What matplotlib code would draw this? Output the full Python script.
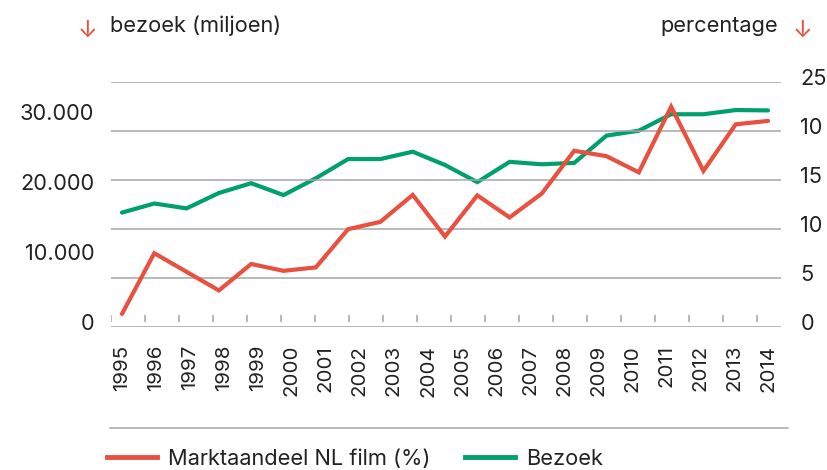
import numpy as np
import matplotlib
matplotlib.use('Agg')
from matplotlib import pyplot as plt
from matplotlib import transforms
from matplotlib.lines import Line2D

plt.rcParams['font.family'] = ['Inter', 'DejaVu Sans']

# 21 points spread evenly over 1995-2014 (as in the source chart)
x_pts = np.linspace(1995, 2014, 21)

# bezoek (duizenden), left axis
bezoek = [16300, 17600, 16900, 19100, 20500, 18800, 21200, 23950, 23950, 25000, 23100,
          20650, 23550, 23200, 23400, 27300, 28000, 30350, 30350, 30950, 30900]

# marktaandeel NL film (%), right axis
aandeel = [1.3, 7.5, 5.6, 3.7, 6.4, 5.7, 6.05, 9.95, 10.7, 13.45, 9.2,
           13.4, 11.15, 13.6, 17.95, 17.4, 15.75, 22.45, 15.9, 20.65, 21.0]

years = list(range(1995, 2015))
left_ticks = [0, 10000, 20000, 30000]
left_labels = ['0', '10.000', '20.000', '30.000']
right_ticks = [0, 5, 10, 15, 20, 25]
right_labels = ['0', '5', '10', '15', '10', '25']

red = '#e8503f'
green = '#00a06a'
txt = '#222222'
grid = '#a6a6a6'
fs = 15.7

W, H = 828, 470
fig = plt.figure(figsize=(W / 100, H / 100), dpi=100)
ax = fig.add_axes([111 / W, 1 - 326.7 / H, 670 / W, 245 / H])
ax2 = ax.twinx()

ax.plot(x_pts, bezoek, color=green, lw=3.0, solid_capstyle='round', solid_joinstyle='miter')
ax2.plot(x_pts, aandeel, color=red, lw=3.0, solid_capstyle='round', solid_joinstyle='miter')

ax.set_xlim(1995 - 11 / 34.1, 2014 + 13 / 34.1)
ax.set_ylim(0, 35000)
ax2.set_ylim(0, 25)

for a in (ax, ax2):
    for s in a.spines.values():
        s.set_visible(False)

ax2.set_yticks(right_ticks)
ax2.set_yticklabels(right_labels, fontsize=fs, color=txt)
ax2.tick_params(axis='y', length=0, pad=14)
for v in right_ticks:
    ax2.axhline(v, color=grid, lw=1.1, zorder=0)

ax.set_yticks(left_ticks)
ax.set_yticklabels(left_labels, fontsize=fs, color=txt)
ax.tick_params(axis='y', length=0, pad=12)

up = transforms.ScaledTranslation(0, 4.5 / 100, fig.dpi_scale_trans)
for lbl in ax.get_yticklabels() + ax2.get_yticklabels():
    lbl.set_transform(lbl.get_transform() + up)

ax.set_xticks(years)
ax.set_xticklabels([str(y) for y in years], rotation=90, fontsize=14.8, color=txt)
ax.tick_params(axis='x', length=0, pad=13)

# small tick marks just above the base line
bt = transforms.blended_transform_factory(ax.transData, ax.transAxes)
ax.vlines(np.array(years) - 0.33, 0.019, 0.048, transform=bt, color=grid, lw=1.1)

# axis headers
fig.text(88 / W, 1 - 31 / H, '\u2193', color=red, fontsize=17, ha='center', va='center')
fig.text(110 / W, 1 - 26 / H, 'bezoek (miljoen)', color=txt, fontsize=fs, ha='left', va='center')
fig.text(778 / W, 1 - 26 / H, 'percentage', color=txt, fontsize=fs, ha='right', va='center')
fig.text(803 / W, 1 - 31 / H, '\u2193', color=red, fontsize=17, ha='center', va='center')

# separator line above legend
fig.add_artist(Line2D([110 / W, 788 / W], [1 - 428 / H, 1 - 428 / H], color=grid, lw=1.1))

handles = [Line2D([], [], color=red, lw=3.5), Line2D([], [], color=green, lw=3.5)]
fig.legend(handles, ['Marktaandeel NL film (%)', 'Bezoek'], loc='center left',
           bbox_to_anchor=(107 / W, 1 - 459 / H), ncol=2, frameon=False, fontsize=fs,
           handlelength=2.3, handletextpad=0.5, columnspacing=1.6, borderpad=0,
           borderaxespad=0, labelcolor=txt)

fig.savefig('out.png', dpi=100)
